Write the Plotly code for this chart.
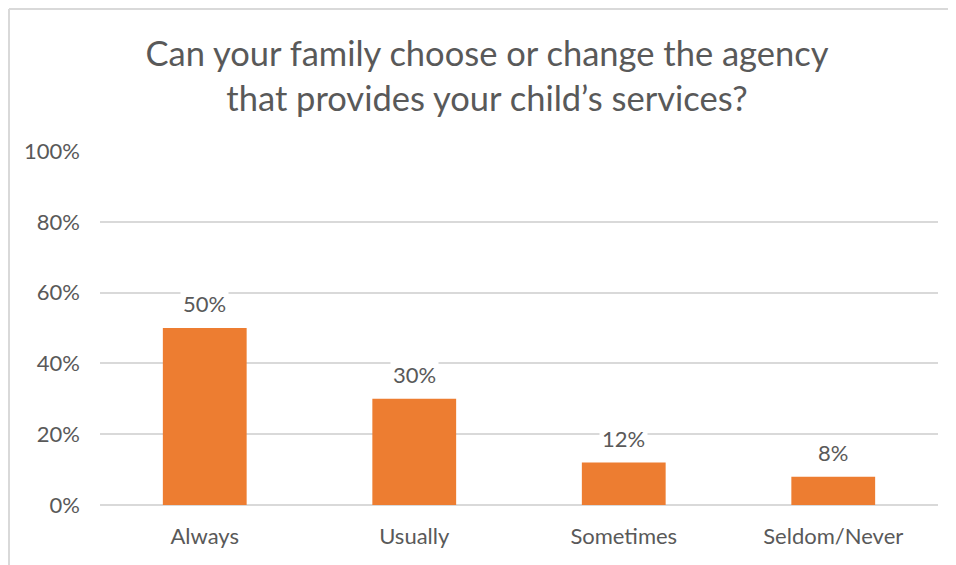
import plotly.graph_objects as go

categories = ["Always", "Usually", "Sometimes", "Seldom/Never"]
values = [50, 30, 12, 8]
value_labels = ["50%", "30%", "12%", "8%"]
y_ticks = [0, 20, 40, 60, 80, 100]
y_tick_labels = ["0%", "20%", "40%", "60%", "80%", "100%"]
title_text = "Can your family choose or change the agency<br>that provides your child’s services?"

FONT = "Lato"
GREY = "#595959"
W, H = 948, 557          # page body has an 8px margin
L, T, R, B = 92, 143, 18, 60

fig = go.Figure()
fig.add_trace(go.Bar(
    x=categories, y=values,
    marker=dict(color="#ED7D31", line=dict(width=0)),
    hoverinfo="skip",
))

for c, v, t in zip(categories, values, value_labels):
    fig.add_annotation(
        x=c, y=v, text=t, showarrow=False,
        yanchor="bottom", yshift=8,
        bgcolor="white", borderpad=2,
        font=dict(family=FONT, size=22, color=GREY),
    )

pw, ph = W - L - R, H - T - B
# frame lines (top and left of the chart area)
fig.add_shape(type="line", xref="paper", yref="paper",
              x0=(1 - L) / pw, x1=(W - L) / pw,
              y0=1 + (T - 1) / ph, y1=1 + (T - 1) / ph,
              line=dict(color="#d9d9d9", width=2))
fig.add_shape(type="line", xref="paper", yref="paper",
              x0=(1 - L) / pw, x1=(1 - L) / pw,
              y0=1 + (T - 1) / ph, y1=-B / ph,
              line=dict(color="#d9d9d9", width=2))

fig.update_layout(
    width=W, height=H,
    margin=dict(l=L, r=R, t=T, b=B),
    paper_bgcolor="white", plot_bgcolor="white",
    bargap=0.6,
    showlegend=False,
    title=dict(
        text=title_text,
        x=479 / W, xanchor="center", xref="container",
        y=1 - 58 / H, yanchor="middle", yref="container",
        font=dict(family=FONT, size=34.5, color=GREY),
    ),
    font=dict(family=FONT, color=GREY),
)
fig.update_yaxes(
    range=[0, 100], tickvals=y_ticks, ticktext=y_tick_labels,
    showgrid=True, gridcolor="#d9d9d9", gridwidth=1.5,
    zeroline=True, zerolinecolor="#d9d9d9", zerolinewidth=1.5,
    showline=False, ticks="",
    tickfont=dict(family=FONT, size=22, color=GREY),
    ticklabelstandoff=19,
)
fig.update_xaxes(
    showgrid=False, showline=False, ticks="",
    tickfont=dict(family=FONT, size=22, color=GREY),
    ticklabelstandoff=16,
)

fig.write_html("out.html")
